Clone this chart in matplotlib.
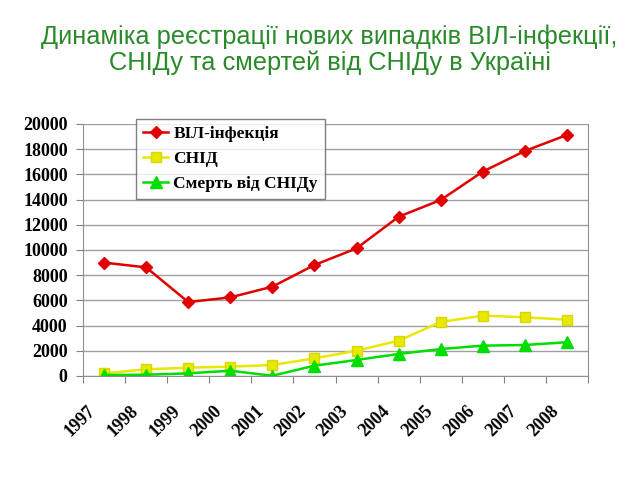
import matplotlib.pyplot as plt
import numpy as np

roky = ['1997', '1998', '1999', '2000', '2001', '2002', '2003', '2004',
        '2005', '2006', '2007', '2008']
vil = [9000, 8620, 5870, 6240, 7090, 8810, 10130, 12640, 13970, 16220, 17860, 19130]
snid = [210, 530, 660, 740, 870, 1400, 2010, 2800, 4290, 4790, 4660, 4470]
smert = [80, 100, 210, 420, 20, 820, 1270, 1750, 2140, 2410, 2460, 2680]

serif = ['Liberation Serif', 'DejaVu Serif']

fig = plt.figure(figsize=(6.4, 4.8), dpi=100)
ax = fig.add_axes([83 / 640, 1 - 376 / 480, 505 / 640, 252 / 480])

x = np.arange(len(roky))
ax.plot(x, vil, color='#e00000', marker='D', markersize=6, lw=1.8, label='ВІЛ-інфекція')
ax.plot(x, snid, color='#e8e800', marker='s', markersize=7, lw=1.8,
        markeredgecolor='#d8d800', label='СНІД')
ax.plot(x, smert, color='#00dd00', marker='^', markersize=8, lw=1.8, label='Смерть від СНІДу')

ax.set_xlim(-0.5, len(roky) - 0.5)
ax.set_ylim(0, 20000)
ax.set_yticks(np.arange(0, 20001, 2000))
ax.set_yticklabels([str(v) for v in range(0, 20001, 2000)],
                   fontfamily=serif, fontweight='bold', fontsize=13)
ax.yaxis.grid(True, color='#a0a0a0', lw=1)
ax.set_axisbelow(True)

# ticks on category boundaries, year labels a bit left of the middle
ax.set_xticks(np.arange(-0.5, len(roky), 1.0))
ax.set_xticklabels([])
ax.set_xticks(x - 0.4, minor=True)
ax.set_xticklabels(roky, minor=True, rotation=45, ha='right', va='top',
                   rotation_mode='anchor', fontfamily=serif,
                   fontweight='bold', fontsize=13)
ax.tick_params(axis='x', which='minor', length=0, pad=19)
ax.tick_params(axis='x', which='major', length=5, color='#808080')
ax.tick_params(axis='y', length=5, color='#808080', pad=6)

for s in ['left', 'bottom', 'right']:
    ax.spines[s].set_color('#909090')
ax.spines['top'].set_visible(False)

leg = ax.legend(loc='upper left', bbox_to_anchor=(0.105, 1.02), frameon=True,
                fancybox=False, edgecolor='#606060', handlelength=1.45,
                handletextpad=0.3, borderaxespad=0, borderpad=0.4,
                labelspacing=0.5,
                prop={'family': serif, 'weight': 'bold', 'size': 12.5})
leg.get_frame().set_linewidth(1)

fig.text(0.515, 0.896, 'Динаміка реєстрації нових випадків ВІЛ-інфекції,\nСНІДу та смертей від СНІДу в Україні',
         ha='center', va='center', fontsize=18.3, color='#2a8a2a',
         fontfamily=['Liberation Sans', 'DejaVu Sans'], linespacing=1.05)

fig.savefig('out.png', dpi=100)
